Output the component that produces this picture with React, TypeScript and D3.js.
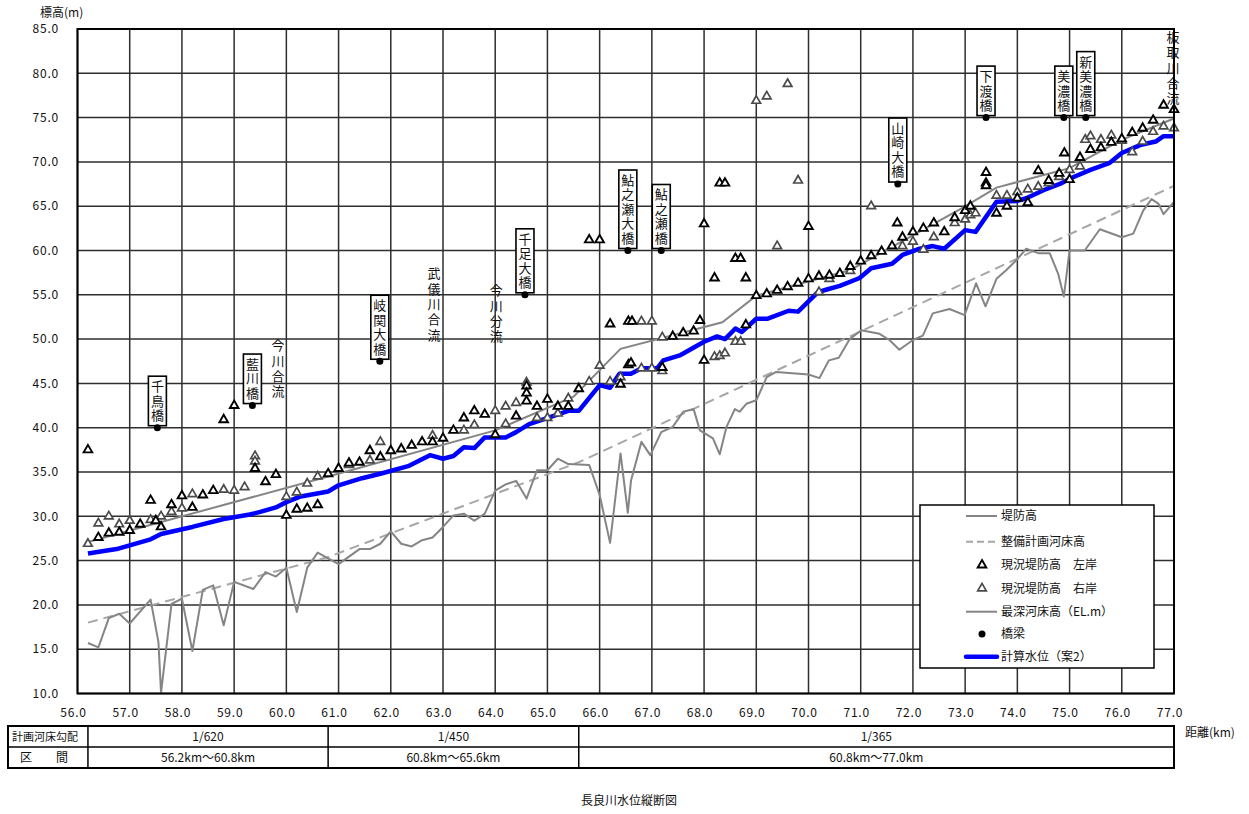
import * as d3 from 'd3';
import { useEffect } from 'react';

// 距離標 (km) と 標高 (m) の目盛
const kmTicks = [56, 57, 58, 59, 60, 61, 62, 63, 64, 65, 66, 67, 68, 69, 70, 71, 72, 73, 74, 75, 76, 77];
const elevTicks = [10, 15, 20, 25, 30, 35, 40, 45, 50, 55, 60, 65, 70, 75, 80, 85];

// 堤防高
const leveeLine = [
  [56.2, 27.1], [60.8, 34.5], [64.0, 39.7], [65.5, 43.5], [66.0, 46.5], [66.4, 48.9],
  [68.35, 51.9], [69.0, 54.9], [70.8, 57.8], [72.95, 64.8], [73.6, 67.1], [75.0, 69.3],
  [76.0, 72.5], [77.0, 74.9],
];

// 整備計画河床高
const planBed = [[56.2, 18.0], [60.8, 25.4], [65.6, 36.1], [77.0, 67.3]];

// 最深河床高
const deepestBed = [
  [56.2, 15.7], [56.4, 15.2], [56.6, 18.5], [56.8, 19.0], [57.0, 17.9], [57.4, 20.6],
  [57.55, 15.8], [57.6, 10.1], [57.8, 20.1], [58.0, 20.7], [58.2, 14.8], [58.4, 21.7],
  [58.6, 22.2], [58.8, 17.7], [59.0, 22.6], [59.37, 21.8], [59.6, 23.7], [59.8, 23.2],
  [60.0, 24.2], [60.2, 19.2], [60.4, 24.2], [60.6, 25.9], [61.0, 24.6], [61.4, 26.3],
  [61.6, 26.3], [61.8, 26.9], [62.0, 28.3], [62.2, 26.9], [62.4, 26.6], [62.6, 27.3],
  [62.8, 27.6], [63.0, 28.8], [63.2, 30.1], [63.4, 30.3], [63.6, 29.5], [63.8, 30.3],
  [64.0, 32.9], [64.2, 33.6], [64.4, 34.0], [64.6, 32.0], [64.8, 35.2], [65.0, 35.2],
  [65.2, 36.5], [65.4, 35.9], [65.8, 35.8], [66.0, 32.4], [66.2, 27.0], [66.4, 37.1],
  [66.54, 30.4], [66.6, 34.0], [66.8, 38.4], [66.97, 36.9], [67.18, 39.5], [67.4, 40.1],
  [67.6, 41.8], [67.8, 42.1], [67.92, 39.7], [68.17, 38.8], [68.3, 37.0], [68.43, 40.1],
  [68.59, 42.1], [68.68, 41.8], [68.81, 42.7], [69.0, 43.1], [69.2, 45.7], [69.38, 46.3],
  [70.0, 46.0], [70.21, 45.6], [70.39, 47.6], [70.58, 47.9], [70.79, 50.0], [71.01, 51.0],
  [71.36, 50.6], [71.55, 49.9], [71.74, 48.8], [72.0, 49.9], [72.19, 50.4], [72.38, 52.9],
  [72.7, 53.4], [72.99, 52.7], [73.21, 56.3], [73.39, 53.7], [73.6, 56.8], [73.79, 57.8],
  [73.98, 58.9], [74.17, 60.2], [74.4, 59.7], [74.62, 59.7], [74.78, 57.4], [74.89, 54.8],
  [75.0, 60.0], [75.29, 60.0], [75.58, 62.4], [76.0, 61.5], [76.22, 61.9], [76.41, 64.5],
  [76.57, 65.8], [76.7, 65.3], [76.8, 64.1], [77.0, 65.5],
];

// 計算水位（案2）
const waterLevel = [
  [56.2, 25.8], [56.75, 26.3], [57.4, 27.4], [57.6, 28.0], [58.2, 28.8], [58.8, 29.7],
  [59.3, 30.2], [59.5, 30.5], [59.8, 31.0], [60.0, 31.6], [60.25, 32.2], [60.8, 32.8],
  [61.0, 33.5], [61.45, 34.3], [61.8, 34.8], [62.35, 35.7], [62.75, 36.9], [63.0, 36.5],
  [63.2, 36.8], [63.4, 37.8], [63.6, 37.7], [63.8, 38.9], [64.2, 38.9], [64.4, 39.5],
  [64.65, 40.4], [65.05, 41.2], [65.4, 41.9], [65.6, 41.9], [66.0, 44.8], [66.2, 44.5],
  [66.38, 46.1], [66.6, 46.1], [66.8, 46.7], [67.1, 46.7], [67.22, 47.6], [67.55, 48.2],
  [68.0, 49.7], [68.25, 50.3], [68.4, 50.0], [68.6, 51.2], [68.72, 50.8], [69.0, 52.3],
  [69.22, 52.3], [69.62, 53.2], [69.8, 53.1], [70.18, 55.3], [70.35, 55.6], [70.6, 56.0],
  [70.98, 56.9], [71.2, 58.0], [71.6, 58.5], [71.8, 59.5], [72.13, 60.2], [72.38, 60.5],
  [72.6, 60.2], [73.0, 62.3], [73.2, 62.1], [73.6, 65.5], [74.0, 65.6], [74.17, 65.9],
  [74.5, 66.8], [74.85, 67.6], [75.0, 68.1], [75.4, 69.1], [75.77, 69.9], [76.0, 71.0],
  [76.35, 71.9], [76.65, 72.3], [76.8, 72.9], [77.0, 72.9],
];

// 現況堤防高 左岸
const leftBank = [
  [56.2, 37.5], [56.4, 27.6], [56.6, 28.1], [56.8, 28.2], [57.0, 28.4], [57.2, 29.1],
  [57.4, 31.8], [57.5, 29.5], [57.6, 28.8], [57.8, 31.3], [58.0, 32.3], [58.2, 31.0],
  [58.4, 32.4], [58.6, 32.9], [58.8, 40.9], [59.0, 42.5], [59.4, 35.4], [59.6, 33.9],
  [59.8, 34.7], [60.0, 30.1], [60.2, 30.8], [60.4, 30.9], [60.6, 31.3], [60.8, 34.8],
  [61.0, 35.4], [61.2, 36.0], [61.4, 36.1], [61.6, 37.4], [61.8, 36.7], [62.0, 37.4],
  [62.2, 37.6], [62.4, 38.0], [62.6, 38.4], [62.8, 38.4], [63.0, 38.8], [63.2, 39.7],
  [63.4, 41.1], [63.6, 41.9], [63.8, 41.5], [64.0, 39.2], [64.4, 41.3], [64.6, 44.7],
  [64.6, 43.9], [64.6, 43.0], [64.8, 42.4], [65.0, 43.2], [65.2, 42.4], [65.4, 42.4],
  [65.6, 44.4], [65.8, 61.2], [66.0, 61.2], [66.2, 51.7], [66.4, 44.9], [66.55, 47.1],
  [66.6, 47.3], [66.55, 52.0], [66.62, 52.0], [67.2, 46.8], [67.4, 50.3], [67.6, 50.7],
  [67.8, 50.9], [67.92, 52.1], [68.0, 63.0], [68.0, 47.6], [68.2, 56.9], [68.3, 67.6],
  [68.4, 67.6], [68.6, 59.1], [68.7, 59.1], [68.8, 56.9], [68.8, 51.6], [69.0, 54.9],
  [69.2, 55.1], [69.4, 55.5], [69.6, 55.9], [69.8, 56.3], [70.0, 56.8], [70.0, 62.7],
  [70.2, 57.1], [70.4, 57.2], [70.6, 57.4], [70.8, 58.2], [71.0, 58.8], [71.2, 59.4],
  [71.4, 59.9], [71.6, 60.5], [71.7, 63.1], [71.8, 61.5], [72.0, 62.1], [72.2, 62.5],
  [72.4, 63.1], [72.6, 62.1], [72.8, 63.7], [73.0, 64.5], [73.1, 65.0], [73.4, 68.8],
  [73.4, 67.6], [73.4, 67.3], [73.6, 64.2], [73.8, 65.0], [74.0, 65.9], [74.2, 65.4],
  [74.4, 69.0], [74.6, 67.9], [74.8, 68.7], [74.9, 71.0], [75.0, 68.0], [75.2, 70.5],
  [75.4, 71.4], [75.6, 71.6], [75.8, 72.2], [76.0, 72.6], [76.2, 73.3], [76.4, 73.8],
  [76.6, 74.7], [76.8, 76.4], [77.0, 75.9],
];

// 現況堤防高 右岸
const rightBank = [
  [56.2, 26.9], [56.4, 29.2], [56.6, 30.0], [56.8, 29.1], [57.0, 29.5], [57.4, 29.6],
  [57.6, 30.0], [57.8, 30.5], [58.0, 30.9], [58.2, 32.5], [58.8, 33.0], [59.0, 32.9],
  [59.2, 33.3], [59.4, 36.8], [59.4, 36.2], [60.0, 32.2], [60.2, 32.7], [60.4, 33.7],
  [60.6, 34.5], [61.2, 35.8], [61.6, 36.3], [61.8, 38.4], [62.8, 39.1], [63.4, 39.7],
  [63.6, 40.3], [64.0, 41.9], [64.2, 42.4], [64.2, 40.4], [64.4, 42.8], [64.6, 45.1],
  [64.8, 41.1], [65.0, 41.1], [65.2, 41.6], [65.4, 43.3], [65.8, 45.2], [66.0, 47.0],
  [66.2, 45.2], [66.4, 45.7], [66.8, 52.0], [67.0, 52.0], [66.8, 46.7], [67.0, 46.7],
  [67.2, 46.4], [67.2, 50.2], [68.2, 48.0], [68.3, 48.1], [68.4, 48.4], [68.6, 49.7],
  [68.7, 49.7], [69.0, 76.9], [69.2, 77.4], [69.4, 60.5], [69.6, 78.8], [69.8, 67.9],
  [70.2, 55.3], [70.4, 56.8], [70.8, 57.7], [71.2, 65.0], [71.8, 60.5], [72.0, 61.0],
  [72.2, 60.1], [72.4, 61.5], [72.8, 63.1], [73.0, 63.5], [73.1, 64.0], [73.2, 64.2],
  [73.6, 66.2], [73.8, 66.2], [74.0, 66.6], [74.2, 66.9], [74.4, 67.2], [74.6, 67.6],
  [74.8, 68.3], [75.0, 69.1], [75.2, 69.5], [75.3, 72.5], [75.4, 72.9], [75.6, 72.5],
  [75.8, 73.0], [76.0, 72.4], [76.2, 71.1], [76.4, 72.3], [76.6, 73.4], [76.8, 74.0],
  [77.0, 73.8],
];

// 橋梁: [名称, km, 標高]
const bridges: [string, number, number][] = [
  ['千鳥橋', 57.53, 40.0],
  ['藍川橋', 59.35, 42.5],
  ['岐関大橋', 61.79, 47.5],
  ['千足大橋', 64.57, 55.0],
  ['鮎之瀬大橋', 66.54, 60.0],
  ['鮎之瀬橋', 67.18, 60.0],
  ['山崎大橋', 71.71, 67.5],
  ['下渡橋', 73.4, 75.0],
  ['美濃橋', 74.89, 75.0],
  ['新美濃橋', 75.31, 75.0],
];

// 合流・分流の注記: [文字, km, 先頭文字の標高]
const notes: [string, number, number][] = [
  ['今川合流', 59.84, 49.3],
  ['武儀川合流', 62.83, 57.4],
  ['今川分流', 64.02, 55.5],
  ['板取川合流', 76.98, 84.1],
];

// 計画河床勾配の区間
const sectionStart = [56.2, 60.8, 65.6];
const sectionEnd = [60.8, 65.6, 77.0];
const sectionSlope = ['1/620', '1/450', '1/365'];
const sectionRange = ['56.2km～60.8km', '60.8km～65.6km', '60.8km～77.0km'];

const FONT = '"Noto Sans CJK JP", "Noto Sans", sans-serif';
const W = 1249;
const H = 814;

const x = d3.scaleLinear().domain([56, 77]).range([77.5, 1174]);
const y = d3.scaleLinear().domain([10, 85]).range([693.5, 29]);

const line = d3
  .line<number[]>()
  .x((d) => x(d[0]))
  .y((d) => y(d[1]));

const triPath = d3.symbol().type(d3.symbolTriangle).size(32)() as string;

const Triangle = ({ cx, cy, left }: { cx: number; cy: number; left: boolean }) => (
  <path
    d={triPath}
    transform={`translate(${cx},${cy})`}
    fill="#fff"
    stroke={left ? '#000' : '#4a4a4a'}
    strokeWidth={left ? 1.9 : 1.7}
  />
);

// 縦書き (writing-mode で1つの text にまとめる)
const VText = ({ text, cx, top, step, size }: { text: string; cx: number; top: number; step: number; size: number }) => (
  <text
    x={cx}
    y={top - size / 2}
    fontSize={size}
    fontFamily={FONT}
    fill="#111"
    style={{ writingMode: 'vertical-rl', letterSpacing: `${step - size}px` }}
  >
    {text}
  </text>
);

export default function App() {
  useEffect(() => {
    document.body.style.margin = '0';
  }, []);

  const left = x.range()[0];
  const right = x.range()[1];
  const top = y.range()[1];
  const bottom = y.range()[0];

  const tableTop = 726;
  const tableMid = 747;
  const tableBottom = 768;
  const tableLeft = 8;

  const legendX = 920;
  const legendY = 505;
  const legendRows = [516, 541.7, 565, 588.3, 611.7, 634, 656.7];

  return (
    <svg width={W} height={H} style={{ display: 'block', background: '#fff' }}>
      {/* grid */}
      {kmTicks.map((k) => (
        <line key={`v${k}`} x1={x(k)} x2={x(k)} y1={top} y2={bottom} stroke="#2e2e2e" strokeWidth={1.5} />
      ))}
      {elevTicks.map((e) => (
        <line key={`h${e}`} x1={left} x2={right} y1={y(e)} y2={y(e)} stroke="#2e2e2e" strokeWidth={1.5} />
      ))}

      {/* 整備計画河床高 */}
      <path d={line(planBed) as string} fill="none" stroke="#a6a6a6" strokeWidth={2} strokeDasharray="10,6" />
      {/* 最深河床高 */}
      <path d={line(deepestBed) as string} fill="none" stroke="#858585" strokeWidth={2} strokeLinejoin="round" />
      {/* 堤防高 */}
      <path d={line(leveeLine) as string} fill="none" stroke="#858585" strokeWidth={2} />
      {/* 計算水位 */}
      <path d={line(waterLevel) as string} fill="none" stroke="#0000ff" strokeWidth={4.5} strokeLinejoin="round" />

      {rightBank.map((d, i) => (
        <Triangle key={`r${i}`} cx={x(d[0])} cy={y(d[1])} left={false} />
      ))}
      {leftBank.map((d, i) => (
        <Triangle key={`l${i}`} cx={x(d[0])} cy={y(d[1])} left={true} />
      ))}

      {/* 橋梁 */}
      {bridges.map(([name, km, el]) => {
        const n = Array.from(name).length;
        const bh = n * 14.5 + 6;
        const by = y(el) - 2 - bh;
        return (
          <g key={name}>
            <rect x={x(km) - 9} y={by} width={18} height={bh} fill="#fff" stroke="#000" strokeWidth={1.6} />
            <VText text={name} cx={x(km)} top={by + 10} step={14.5} size={13} />
            <circle cx={x(km)} cy={y(el)} r={3.5} fill="#000" />
          </g>
        );
      })}

      {notes.map(([t, km, el]) => (
        <VText key={t} text={t} cx={x(km)} top={y(el)} step={15.3} size={13} />
      ))}

      {/* frame */}
      <rect x={left} y={top} width={right - left} height={bottom - top} fill="none" stroke="#000" strokeWidth={2} />

      {/* axes labels */}
      {elevTicks.map((e) => (
        <text key={`yl${e}`} x={59} y={y(e)} dy="0.35em" textAnchor="end" fontSize={12} fontFamily={FONT} letterSpacing={0.8} fill="#111">
          {e.toFixed(1)}
        </text>
      ))}
      {kmTicks.map((k) => (
        <text key={`xl${k}`} x={x(k) - 4} y={717} textAnchor="middle" fontSize={12} fontFamily={FONT} letterSpacing={0.8} fill="#111">
          {k.toFixed(1)}
        </text>
      ))}
      <text x={40} y={17} fontSize={12} fontFamily={FONT} fill="#111">標高(m)</text>
      <text x={1185} y={737} fontSize={12} fontFamily={FONT} fill="#111">距離(km)</text>

      {/* table */}
      <rect x={tableLeft} y={tableTop} width={right - tableLeft} height={tableBottom - tableTop} fill="none" stroke="#000" strokeWidth={2} />
      <line x1={tableLeft} x2={right} y1={tableMid} y2={tableMid} stroke="#000" strokeWidth={1.5} />
      <line x1={x(sectionStart[0])} x2={x(sectionStart[0])} y1={tableTop} y2={tableBottom} stroke="#000" strokeWidth={1.5} />
      {sectionEnd.slice(0, -1).map((e) => (
        <line key={`sd${e}`} x1={x(e)} x2={x(e)} y1={tableTop} y2={tableBottom} stroke="#000" strokeWidth={1.5} />
      ))}
      <text x={12} y={737} dy="0.35em" fontSize={11} fontFamily={FONT} fill="#111">計画河床勾配</text>
      <text x={26} y={758} dy="0.35em" textAnchor="middle" fontSize={12} fontFamily={FONT} fill="#111">区</text>
      <text x={62} y={758} dy="0.35em" textAnchor="middle" fontSize={12} fontFamily={FONT} fill="#111">間</text>
      {sectionSlope.map((s, i) => {
        const cx = (x(sectionStart[i]) + x(sectionEnd[i])) / 2;
        return (
          <g key={s}>
            <text x={cx} y={737} dy="0.35em" textAnchor="middle" fontSize={12} fontFamily={FONT} fill="#111">{s}</text>
            <text x={cx} y={758} dy="0.35em" textAnchor="middle" fontSize={12} fontFamily={FONT} fill="#111">{sectionRange[i]}</text>
          </g>
        );
      })}

      <text x={629} y={801} dy="0.35em" textAnchor="middle" fontSize={12} fontFamily={FONT} fill="#111">長良川水位縦断図</text>

      {/* legend */}
      <rect x={legendX} y={legendY} width={234} height={163} fill="#fff" stroke="#000" strokeWidth={1.5} />
      <line x1={966} x2={997} y1={legendRows[0]} y2={legendRows[0]} stroke="#858585" strokeWidth={2} />
      <line x1={966} x2={997} y1={legendRows[1]} y2={legendRows[1]} stroke="#a6a6a6" strokeWidth={2} strokeDasharray="7,4" />
      <Triangle cx={982} cy={legendRows[2]} left={true} />
      <Triangle cx={982} cy={legendRows[3]} left={false} />
      <line x1={966} x2={997} y1={legendRows[4]} y2={legendRows[4]} stroke="#858585" strokeWidth={2} />
      <circle cx={982} cy={legendRows[5]} r={3.5} fill="#000" />
      <line x1={966} x2={997} y1={legendRows[6]} y2={legendRows[6]} stroke="#0000ff" strokeWidth={4.5} strokeLinecap="round" />
      {['堤防高', '整備計画河床高', '現況堤防高　左岸', '現況堤防高　右岸', '最深河床高（EL.m）', '橋梁', '計算水位（案2）'].map((t, i) => (
        <text key={t} x={1001} y={legendRows[i]} dy="0.35em" fontSize={12} fontFamily={FONT} fill="#111">{t}</text>
      ))}
    </svg>
  );
}
